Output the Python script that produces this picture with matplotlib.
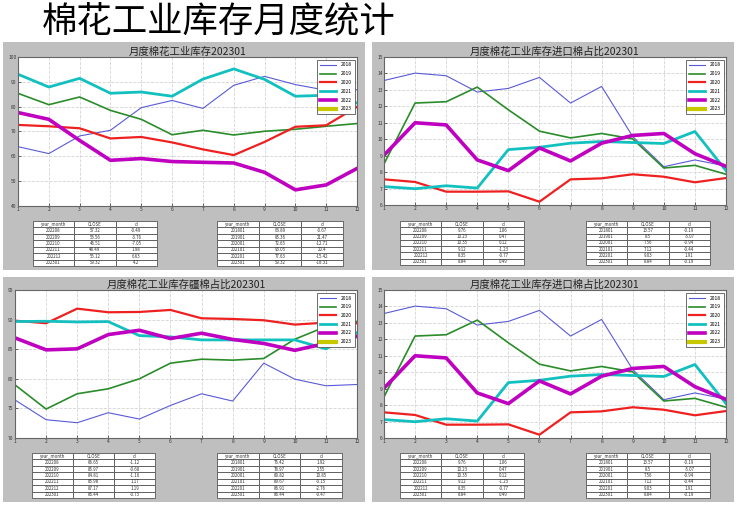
import matplotlib
matplotlib.use("Agg")
import matplotlib.pyplot as plt
from matplotlib.patches import Rectangle

plt.rcParams['font.family'] = ['Noto Sans CJK SC', 'DejaVu Sans']

W, H = 737, 509

months = list(range(1, 13))
years = ["2018", "2019", "2020", "2021", "2022", "2023"]

# Panel 1: 月度棉花工业库存
stock = {
    "2018": [63.89, 61.1, 68.2, 70.5, 79.6, 82.5, 79.3, 88.6, 92.2, 88.9, 86.6, 86.8],
    "2019": [85.36, 80.8, 83.9, 78.5, 74.9, 68.7, 70.5, 68.6, 70.1, 70.9, 72.1, 73.2],
    "2020": [72.65, 72.1, 71.3, 67.2, 67.8, 65.6, 62.8, 60.5, 65.8, 71.9, 72.5, 79.9],
    "2021": [93.05, 87.9, 91.4, 85.4, 85.9, 84.2, 91.1, 95.2, 91.0, 84.2, 84.6, 81.5],
    "2022": [77.63, 74.9, 66.4, 58.4, 59.1, 57.9, 57.6, 57.32, 53.56, 46.51, 48.49, 55.12],
    "2023": [59.32],
}
stock_recent = [["202208", "57.32", "-0.49"], ["202209", "53.56", "-3.76"],
                ["202210", "46.51", "-7.05"], ["202211", "48.49", "1.98"],
                ["202212", "55.12", "6.63"], ["202301", "59.32", "4.2"]]
stock_jan = [["201801", "63.89", "-0.67"], ["201901", "85.36", "21.47"],
             ["202001", "72.65", "-12.71"], ["202101", "93.05", "20.4"],
             ["202201", "77.63", "-15.42"], ["202301", "59.32", "-18.31"]]

# Panel 2 / 4: 进口棉占比
imp = {
    "2018": [13.57, 14.02, 13.86, 12.87, 13.09, 13.76, 12.2, 13.21, 10.16, 8.33, 8.74, 8.37],
    "2019": [8.5, 12.2, 12.28, 13.17, 11.79, 10.49, 10.08, 10.35, 10.02, 8.25, 8.41, 7.87],
    "2020": [7.56, 7.4, 6.81, 6.81, 6.83, 6.2, 7.56, 7.62, 7.87, 7.72, 7.38, 7.64],
    "2021": [7.12, 6.99, 7.17, 7.03, 9.37, 9.51, 9.76, 9.86, 9.8, 9.74, 10.47, 8.09],
    "2022": [9.03, 11.0, 10.87, 8.74, 8.09, 9.47, 8.68, 9.76, 10.23, 10.35, 9.12, 8.35],
    "2023": [8.84],
}
imp_recent = [["202208", "9.76", "1.06"], ["202209", "10.23", "0.47"],
              ["202210", "10.35", "0.12"], ["202211", "9.12", "-1.23"],
              ["202212", "8.35", "-0.77"], ["202301", "8.84", "0.49"]]
imp_jan = [["201801", "13.57", "-0.19"], ["201901", "8.5", "-5.07"],
           ["202001", "7.56", "-0.94"], ["202101", "7.12", "-0.44"],
           ["202201", "9.03", "1.91"], ["202301", "8.84", "-0.19"]]

# Panel 3: 疆棉占比
xj = {
    "2018": [76.42, 73.09, 72.58, 74.27, 73.2, 75.5, 77.47, 76.24, 82.64, 79.94, 78.82, 79.04],
    "2019": [78.97, 74.89, 77.47, 78.31, 80.0, 82.64, 83.31, 83.15, 83.43, 86.69, 88.82, 89.66],
    "2020": [89.82, 89.38, 91.85, 91.24, 91.29, 91.63, 90.22, 90.11, 89.89, 89.16, 89.49, 89.38],
    "2021": [89.67, 89.72, 89.6, 89.66, 87.3, 87.08, 86.57, 86.57, 86.57, 86.57, 85.06, 87.81],
    "2022": [86.91, 84.89, 85.06, 87.47, 88.2, 86.8, 87.7, 86.65, 85.97, 84.81, 85.98, 87.17],
    "2023": [86.44],
}
xj_recent = [["202208", "86.65", "-1.12"], ["202209", "85.97", "-0.68"],
             ["202210", "84.81", "-1.16"], ["202211", "85.98", "1.17"],
             ["202212", "87.17", "1.19"], ["202301", "86.44", "-0.73"]]
xj_jan = [["201801", "76.42", "1.92"], ["201901", "78.97", "2.55"],
          ["202001", "89.82", "10.85"], ["202101", "89.67", "-0.15"],
          ["202201", "86.91", "-2.76"], ["202301", "86.44", "-0.47"]]

col_labels = ["year_month", "CLOSE", "d"]

colors = ["#5a5ad8", "#2a8c2a", "#ee2020", "#12c0c0", "#c000c0", "#c8c800"]
widths = [0.8, 1.2, 1.6, 2.0, 2.6, 3.0]


def fig_rect(x0, y0, x1, y1):
    return [x0 / W, 1 - y1 / H, (x1 - x0) / W, (y1 - y0) / H]


fig = plt.figure(figsize=(W / 100, H / 100), dpi=100, facecolor="white")

fig.text(42 / W, 1 - 22 / H, "棉花工业库存月度统计", fontsize=25.5, va="center",
         ha="left", color="black", fontweight="light")

panels = [
    dict(bg=(3, 42, 365, 270), ax=(18, 57, 357, 206), tl=(33, 221, 157, 266),
         tr=(217, 221, 343, 266), data=stock, ylim=(40, 100), yt=range(40, 101, 10),
         title="月度棉花工业库存202301", recent=stock_recent, jan=stock_jan),
    dict(bg=(372, 42, 734, 270), ax=(384, 57, 726, 205), tl=(400, 221, 524, 265),
         tr=(586, 221, 710, 265), data=imp, ylim=(6, 15), yt=range(6, 16),
         title="月度棉花工业库存进口棉占比202301", recent=imp_recent, jan=imp_jan),
    dict(bg=(3, 277, 365, 502), ax=(15, 290, 357, 438), tl=(32, 453, 155, 498),
         tr=(217, 453, 342, 498), data=xj, ylim=(70, 95), yt=range(70, 96, 5),
         title="月度棉花工业库存疆棉占比202301", recent=xj_recent, jan=xj_jan),
    dict(bg=(372, 277, 734, 502), ax=(384, 290, 726, 438), tl=(400, 453, 524, 498),
         tr=(586, 453, 710, 498), data=imp, ylim=(6, 15), yt=range(6, 16),
         title="月度棉花工业库存进口棉占比202301", recent=imp_recent, jan=imp_jan),
]


def draw_table(rect, rows):
    tax = fig.add_axes(fig_rect(*rect))
    tax.axis("off")
    tb = tax.table(cellText=rows, colLabels=col_labels, cellLoc="center",
                   bbox=[0, 0, 1, 1])
    tb.auto_set_font_size(False)
    tb.set_fontsize(3.2)
    for cell in tb.get_celld().values():
        cell.set_edgecolor("#555555")
        cell.set_linewidth(0.6)
        cell.set_facecolor("white")
        cell.get_text().set_color("#333333")


for p in panels:
    x0, y0, x1, y1 = p["bg"]
    fig.patches.append(Rectangle((x0 / W, 1 - y1 / H), (x1 - x0) / W, (y1 - y0) / H,
                                 transform=fig.transFigure, facecolor="#bfbfbf",
                                 edgecolor="none", zorder=-5))
    ax = fig.add_axes(fig_rect(*p["ax"]))
    ax.set_zorder(2)
    ax.set_facecolor("white")
    for yr, c, lw in zip(years, colors, widths):
        vals = p["data"][yr]
        ax.plot(months[:len(vals)], vals, color=c, lw=lw, label=yr)
    ax.set_xlim(1, 12)
    ax.set_ylim(*p["ylim"])
    ax.set_xticks(months)
    ax.set_yticks(list(p["yt"]))
    ax.tick_params(labelsize=3.5, length=2, width=0.5, colors="#333333",
                   direction="in", pad=1)
    ax.grid(True, ls="--", color="#d4d4d4", lw=0.6)
    for s in ax.spines.values():
        s.set_color("#666666")
        s.set_linewidth(0.8)
    ax.set_title(p["title"], fontsize=7.5, pad=1.5, color="#222222")
    leg = ax.legend(loc="upper right", fontsize=3.6, handlelength=3.2,
                    borderpad=0.6, labelspacing=0.75, fancybox=False,
                    framealpha=1)
    leg.get_frame().set_edgecolor("#555555")
    leg.get_frame().set_linewidth(0.6)
    draw_table(p["tl"], p["recent"])
    draw_table(p["tr"], p["jan"])

fig.savefig("out.png", dpi=100, facecolor="white")
